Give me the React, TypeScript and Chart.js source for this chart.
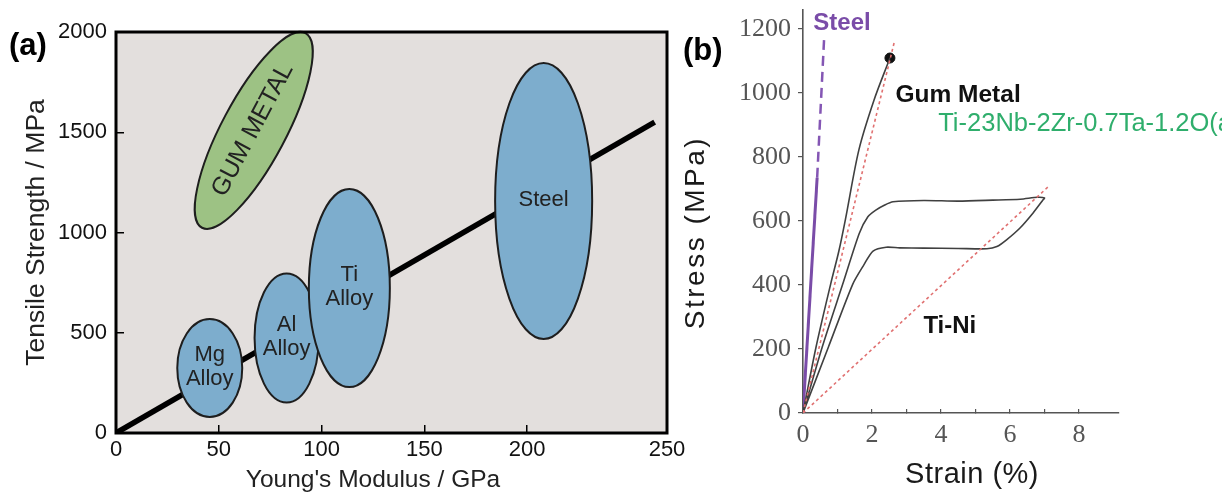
import React, { useEffect, useRef } from 'react';
import { Chart, registerables } from 'chart.js';

Chart.register(...registerables);

// ---------------- Panel (a): tensile strength vs Young's modulus ----------------
const modulusTickValues = [0, 50, 100, 150, 200, 268];
const modulusTickLabels = ['0', '50', '100', '150', '200', '250'];
const strengthTickValues = [0, 500, 1000, 1500, 2000];
const trendModulus = [0, 262];
const trendStrength = [0, 1551];
const materialNames = ['Mg\nAlloy', 'Al\nAlloy', 'Ti\nAlloy', 'Steel', 'GUM METAL'];
const materialModulusCenter = [45.6, 83, 113.5, 208, 67];
const materialStrengthCenter = [324, 474, 723, 1157, 1509];
const materialModulusHalfSpan = [15.8, 15.6, 19.7, 23.6, 53.6];
const materialStrengthHalfSpan = [244, 322, 494, 688, 160];
const materialTiltDeg = [0, 0, 0, 0, 62];

// ---------------- Panel (b): stress-strain curves ----------------
const strainTickValues = [0, 1, 2, 3, 4, 5, 6, 7, 8];
const stressTickValues = [0, 200, 400, 600, 800, 1000, 1200];
const steelSolidStrain = [0, 0.41];
const steelSolidStress = [0, 735];
const steelDashStrain = [0.41, 0.61];
const steelDashStress = [735, 1165];
const gumStrain = [0, 0.38, 0.8, 1.04, 1.23, 1.62, 2.06, 2.52];
const gumStress = [0, 207, 402, 506, 605, 822, 978, 1109];
const gumFractureStrain = [2.52];
const gumFractureStress = [1109];
const gumSecantStrain = [0, 2.64];
const gumSecantStress = [0, 1156];
const tiniStrain = [0, 0.56, 1.15, 1.63, 1.88, 2.11, 2.37, 2.61, 3.5, 4.5, 5.5, 6.3, 6.8, 7.0, 6.96, 6.67, 6.29, 5.9, 5.62, 5.33, 4.5, 3.5, 2.8, 2.41, 2.03, 1.76, 1.44, 0.74, 0];
const tiniStress = [0, 207, 402, 561, 613, 634, 650, 660, 664, 662, 665, 668, 674, 672, 666, 625, 578, 541, 520, 513, 514, 515, 516, 518, 506, 462, 402, 207, 0];
const tiniSecantStrain = [0, 7.1];
const tiniSecantStress = [0, 706];
const noteTexts = ['Steel', 'Gum Metal', 'Ti-23Nb-2Zr-0.7Ta-1.2O(at%)', 'Ti-Ni'];
const noteStrain = [0.3, 2.68, 3.92, 3.49];
const noteStress = [1197, 972, 881, 250];

// ---------------- styles ----------------
const SANS = '"Liberation Sans", Arial, sans-serif';
const SERIF = '"Liberation Serif", "Times New Roman", serif';
const plotBg = '#e3dfdd';
const blueFill = '#7dadcd';
const greenFill = '#9dc284';
const materialFill = [blueFill, blueFill, blueFill, blueFill, greenFill];
const steelPurple = '#7a4ca8';
const secantRed = '#e07070';
const curveGray = '#404040';
const noteColors = [steelPurple, '#111111', '#2fae6c', '#111111'];
const noteFonts = ['bold 24px ' + SANS, 'bold 24.5px ' + SANS, '25.5px ' + SANS, 'bold 24px ' + SANS];

const pts = (xs: number[], ys: number[]) => xs.map((x, i) => ({ x, y: ys[i] }));
const zeroPad = (s: any) => {
  s.paddingTop = 0;
  s.paddingBottom = 0;
  s.paddingLeft = 0;
  s.paddingRight = 0;
};

const panelAPlugin = {
  id: 'panelA',
  beforeDraw(chart: any) {
    const { ctx, chartArea: a } = chart;
    ctx.save();
    ctx.fillStyle = plotBg;
    ctx.fillRect(a.left, a.top, a.right - a.left, a.bottom - a.top);
    ctx.restore();
  },
  afterDatasetsDraw(chart: any) {
    const { ctx } = chart;
    const xs = chart.scales.x;
    const ys = chart.scales.y;
    const pxX = Math.abs(xs.getPixelForValue(1) - xs.getPixelForValue(0));
    const pxY = Math.abs(ys.getPixelForValue(0) - ys.getPixelForValue(1));
    ctx.save();
    materialNames.forEach((name, i) => {
      const cx = xs.getPixelForValue(materialModulusCenter[i]);
      const cy = ys.getPixelForValue(materialStrengthCenter[i]);
      const rx = materialModulusHalfSpan[i] * pxX;
      const ry = materialStrengthHalfSpan[i] * pxY;
      const rot = (-materialTiltDeg[i] * Math.PI) / 180;
      ctx.beginPath();
      ctx.ellipse(cx, cy, rx, ry, rot, 0, Math.PI * 2);
      ctx.fillStyle = materialFill[i];
      ctx.fill();
      ctx.lineWidth = 2;
      ctx.strokeStyle = '#1e1e1e';
      ctx.stroke();
      const lines = name.split('\n');
      ctx.save();
      ctx.translate(cx, cy);
      ctx.rotate(rot);
      ctx.fillStyle = '#222';
      ctx.textAlign = 'center';
      ctx.textBaseline = 'middle';
      ctx.font = (materialTiltDeg[i] ? '25px ' : '22px ') + SANS;
      const lh = 24;
      lines.forEach((ln, k) => {
        ctx.fillText(ln, 0, (k - (lines.length - 1) / 2) * lh - 1);
      });
      ctx.restore();
    });
    ctx.restore();
  },
  afterDraw(chart: any) {
    const { ctx, chartArea: a } = chart;
    const xs = chart.scales.x;
    ctx.save();
    ctx.strokeStyle = '#000';
    ctx.lineWidth = 3;
    ctx.strokeRect(a.left, a.top, a.right - a.left, a.bottom - a.top);
    ctx.fillStyle = '#222';
    ctx.font = '24.5px ' + SANS;
    ctx.textAlign = 'center';
    ctx.textBaseline = 'middle';
    const cx = (xs.getPixelForValue(0) + xs.getPixelForValue(250)) / 2;
    ctx.fillText("Young's Modulus / GPa", cx, 480);
    ctx.fillStyle = '#000';
    ctx.font = 'bold 31px ' + SANS;
    ctx.textAlign = 'left';
    ctx.textBaseline = 'alphabetic';
    ctx.fillText('(a)', 9, 55);
    ctx.restore();
  },
};

const panelBPlugin = {
  id: 'panelB',
  afterDraw(chart: any) {
    const { ctx, chartArea: a } = chart;
    const xs = chart.scales.x;
    const ys = chart.scales.y;
    ctx.save();
    noteTexts.forEach((t, i) => {
      ctx.font = noteFonts[i];
      ctx.fillStyle = noteColors[i];
      ctx.textAlign = 'left';
      ctx.textBaseline = 'alphabetic';
      ctx.fillText(t, xs.getPixelForValue(noteStrain[i]), ys.getPixelForValue(noteStress[i]));
    });
    // axis titles
    ctx.fillStyle = '#1a1a1a';
    ctx.font = '28px ' + SANS;
    ctx.textAlign = 'center';
    ctx.textBaseline = 'middle';
    (ctx as any).letterSpacing = '2.5px';
    ctx.save();
    ctx.translate(16, (a.top + a.bottom) / 2 + 21);
    ctx.rotate(-Math.PI / 2);
    ctx.fillText('Stress (MPa)', 0, 0);
    ctx.restore();
    (ctx as any).letterSpacing = '0.5px';
    ctx.font = '29px ' + SANS;
    ctx.fillText('Strain (%)', xs.getPixelForValue(4.9), 475);
    (ctx as any).letterSpacing = '0px';
    ctx.fillStyle = '#000';
    ctx.font = 'bold 31px ' + SANS;
    ctx.textAlign = 'left';
    ctx.textBaseline = 'alphabetic';
    ctx.fillText('(b)', 3, 60);
    ctx.restore();
  },
};

export default function App() {
  const refA = useRef<HTMLCanvasElement>(null);
  const refB = useRef<HTMLCanvasElement>(null);

  useEffect(() => {
    document.body.style.margin = '0';
    const chartA = new Chart(refA.current as HTMLCanvasElement, {
      type: 'scatter',
      data: {
        datasets: [
          {
            data: pts(trendModulus, trendStrength),
            showLine: true,
            borderColor: '#000',
            borderWidth: 5.5,
            pointRadius: 0,
            borderCapStyle: 'butt',
          } as any,
        ],
      },
      options: {
        responsive: false,
        animation: false,
        devicePixelRatio: 1,
        layout: { padding: { left: 0, top: 32, right: 33, bottom: 0 } },
        plugins: { legend: { display: false }, tooltip: { enabled: false } },
        scales: {
          x: {
            type: 'linear',
            min: 0,
            max: 268,
            afterBuildTicks: (s: any) => {
              s.ticks = modulusTickValues.map((v) => ({ value: v }));
            },
            afterFit: (s: any) => {
              s.height = 62;
              zeroPad(s);
            },
            ticks: {
              autoSkip: false,
              maxRotation: 0,
              padding: 12,
              color: '#111',
              font: { family: SANS, size: 22 },
              callback: (_v: any, i: number) => modulusTickLabels[i],
            },
            grid: { display: true, drawOnChartArea: false, drawTicks: true, tickLength: -8, color: '#000', lineWidth: 1.5 },
            border: { display: false },
          },
          y: {
            type: 'linear',
            min: 0,
            max: 2000,
            afterBuildTicks: (s: any) => {
              s.ticks = strengthTickValues.map((v) => ({ value: v }));
            },
            afterFit: (s: any) => {
              s.width = 116;
              zeroPad(s);
            },
            ticks: {
              autoSkip: false,
              padding: 17,
              color: '#111',
              font: { family: SANS, size: 22 },
              callback: (v: any) => String(v),
            },
            grid: { display: true, drawOnChartArea: false, drawTicks: true, tickLength: -8, color: '#000', lineWidth: 1.5 },
            border: { display: false },
            title: {
              display: true,
              text: 'Tensile Strength / MPa',
              color: '#222',
              font: { family: SANS, size: 26.5 },
              padding: { top: 21, bottom: 0 },
            },
          },
        },
      } as any,
      plugins: [panelAPlugin as any],
    });

    const chartB = new Chart(refB.current as HTMLCanvasElement, {
      type: 'scatter',
      data: {
        datasets: [
          { data: pts(tiniSecantStrain, tiniSecantStress), showLine: true, borderColor: secantRed, borderWidth: 1.6, borderDash: [3, 3], pointRadius: 0 },
          { data: pts(gumSecantStrain, gumSecantStress), showLine: true, borderColor: secantRed, borderWidth: 1.6, borderDash: [3, 3], pointRadius: 0 },
          { data: pts(tiniStrain, tiniStress), showLine: true, borderColor: curveGray, borderWidth: 1.6, tension: 0.25, pointRadius: 0 },
          { data: pts(gumStrain, gumStress), showLine: true, borderColor: curveGray, borderWidth: 1.6, tension: 0.3, pointRadius: 0 },
          { data: pts(steelSolidStrain, steelSolidStress), showLine: true, borderColor: steelPurple, borderWidth: 3, pointRadius: 0 },
          { data: pts(steelDashStrain, steelDashStress), showLine: true, borderColor: '#8456b4', borderWidth: 2.5, borderDash: [10, 6], pointRadius: 0 },
          { data: pts(gumFractureStrain, gumFractureStress), showLine: false, pointRadius: 5, pointBackgroundColor: '#111', pointBorderColor: '#111' },
        ] as any,
      },
      options: {
        responsive: false,
        animation: false,
        devicePixelRatio: 1,
        layout: { padding: { left: 0, top: 10, right: 103, bottom: 0 } },
        plugins: { legend: { display: false }, tooltip: { enabled: false } },
        scales: {
          x: {
            type: 'linear',
            min: 0,
            max: 9.16,
            afterBuildTicks: (s: any) => {
              s.ticks = strainTickValues.map((v) => ({ value: v }));
            },
            afterFit: (s: any) => {
              s.height = 82;
              zeroPad(s);
            },
            ticks: {
              autoSkip: false,
              maxRotation: 0,
              padding: 11,
              color: '#555',
              font: { family: SERIF, size: 26 },
              callback: (v: any) => (v % 2 === 0 ? String(v) : ''),
            },
            grid: { display: true, drawOnChartArea: false, drawTicks: true, tickLength: -4, color: '#555', lineWidth: 1.2 },
            border: { display: true, color: '#555', width: 1.6 },
          },
          y: {
            type: 'linear',
            min: 0,
            max: 1259,
            afterBuildTicks: (s: any) => {
              s.ticks = stressTickValues.map((v) => ({ value: v }));
            },
            afterFit: (s: any) => {
              s.width = 123;
              zeroPad(s);
            },
            ticks: {
              autoSkip: false,
              padding: 7,
              color: '#555',
              font: { family: SERIF, size: 26 },
              callback: (v: any) => String(v),
            },
            grid: { display: true, drawOnChartArea: false, drawTicks: true, tickLength: 5, color: '#555', lineWidth: 1.2 },
            border: { display: true, color: '#555', width: 1.6 },
          },
        },
      } as any,
      plugins: [panelBPlugin as any],
    });

    return () => {
      chartA.destroy();
      chartB.destroy();
    };
  }, []);

  return (
    <div style={{ position: 'relative', width: 1222, height: 495, background: '#fff', overflow: 'hidden' }}>
      <canvas ref={refA} width={700} height={495} style={{ position: 'absolute', left: 0, top: 0 }} />
      <canvas ref={refB} width={542} height={495} style={{ position: 'absolute', left: 680, top: 0 }} />
    </div>
  );
}
